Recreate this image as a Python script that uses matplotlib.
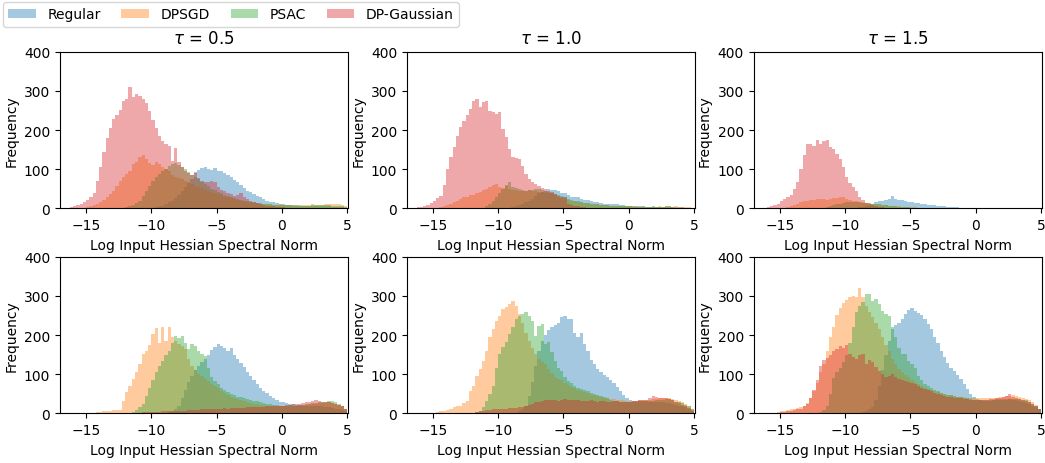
import numpy as np
import matplotlib.pyplot as plt

# bin edges for the log spectral norm histograms
edges = np.arange(-17, 5.001, 0.25)
centers = (edges[:-1] + edges[1:]) / 2

methods = ["Regular", "DPSGD", "PSAC", "DP-Gaussian"]
taus = [0.5, 1.0, 1.5]

# per-bin heights, each list starts at the given left bin edge
# top row
reg_a05 = (-10.0, [2,3,5,7,10,15,20,27,35,45, 55,65,75,90,98,102,105,100,98,102,
                   96,95,90,86,80,72,66,60,52,45, 41,36,32,28,24,20,17,15,13,11,
                   10,9,9,8,8,7,7,6,7,6, 6,5,5,5,5,4,4,3,3,2])
dpsgd_a05 = (-15.0, [3,5,8,11,15,22,28,36,45,58, 70,80,88,95,112,118,130,135,125,115,
                     110,118,112,105,100,95,85,80,78,74, 70,66,62,58,55,51,48,45,42,39,
                     36,33,30,28,26,24,22,20,18,16, 15,14,13,12,11,11,10,9,9,10,
                     9,8,8,9,8,7,8,9,8,10, 9,8,9,11,10,12,10,11,9,6])
psac_a05 = (-12.0, [3,5,8,13,20,32,45,58,70,80, 88,95,100,108,112,115,110,105,100,92,
                    85,80,75,68,62,56,50,46,42,38, 35,31,28,26,24,22,20,18,16,15,
                    14,13,12,11,10,9,9,8,8,8, 8,7,7,8,7,6,7,8,8,9, 8,8,8,7,7,6,5,3])
gauss_a05 = (-16.5, [2,3,5,8,11,16,22,30,38,70, 105,145,180,205,228,238,250,275,280,310,
                     285,292,288,280,270,248,225,205,185,172, 165,158,120,155,118,105,95,90,86,92,
                     78,70,68,66,70,68,55,48,44,40, 36,32,35,40,30,24,20,16,13,11,
                     9,7,6,5,4,3,3,2,2,1])

reg_a10 = (-9.0, [3,5,8,12,16,20,25,32,38,42, 45,49,48,46,45,40,38,34,30,29,
                  28,25,22,21,20,17,15,13,12,11, 10,11,10,9,8,7,6,6,5,5,
                  5,4,4,5,4,4,4,5,5,4, 3,3,3,2,2])
dpsgd_a10 = (-14.75, [2,3,5,8,11,15,20,25,28,30, 33,35,38,42,46,50,55,60,62,55,
                      52,58,50,48,46,45,44,45,46,45, 44,42,41,40,39,38,34,30,27,25,
                      22,20,18,16,15,14,13,12,11,10, 9,8,8,7,7,6,6,5,5,5,
                      5,5,4,5,4,4,4,4,5,4, 5,5,4,5,4,4,3,3,2])
psac_a10 = (-11.25, [2,5,10,20,30,40,50,60,66,55, 52,50,47,45,47,48,50,50,47,45,
                     42,40,37,35,31,28,25,22,20,18, 16,14,13,12,11,10,9,8,8,7,
                     7,6,6,5,5,5,4,4,4,4, 3,4,3,3,4,3,3,3,3,2, 2,2,1])
gauss_a10 = (-16.5, [2,3,4,6,9,14,20,26,32,60, 100,130,156,185,207,224,238,254,275,279,
                     258,271,275,249,245,241,245,203,181,151, 130,128,126,109,88,75,66,62,58,52,
                     49,44,41,36,32,30,28,12,8,6, 5,4,3,2,2,1])

reg_a15 = (-9.25, [2,3,4,6,9,12,15,18,20,22, 25,32,24,22,21,18,17,16,14,13,
                   11,10,9,8,8,7,6,5,4,4, 3,3,2,1])
dpsgd_a15 = (-14.75, [2,3,5,8,11,15,18,20,21,22, 24,25,23,22,24,26,27,28,28,25,
                      22,20,18,16,15,14,13,12,11,10, 9,8,7,6,6,5,4,4,3,3,
                      3,2,2,2,1,1])
psac_a15 = (-11.5, [3,5,8,10,12,14,15,16,16,15, 15,14,14,13,12,11,10,9,8,7,
                    6,5,4,4,3,3,2,2,1])
gauss_a15 = (-16.25, [2,3,5,8,11,18,24,28,35,50, 66,100,135,165,164,160,175,164,172,175,
                      156,151,140,126,105,79,65,55,45,30, 22,14,11,9,6,4,3,2,1])

# bottom row
reg_b05 = (-8.75, [3,6,12,20,40,60,80,95,110,120, 130,140,150,162,170,178,172,168,160,168,
                   150,140,128,118,105,95,85,76,66,58, 52,45,40,34,30,28,26,25,23,22,
                   21,20,20,20,19,19,18,18,17,15, 14,12,11,9,5])
dpsgd_b05 = (-14.75, [1,2,3,4,5,7,7,8,9,9, 32,55,70,88,105,125,151,160,175,203,
                      218,180,220,185,220,195,185,178,172,165, 140,120,110,100,95,88,82,76,70,64,
                      58,52,47,43,40,37,34,31,29,27, 25,23,22,21,20,19,18,18,18,18,
                      18,18,19,19,20,21,22,23,24,25, 26,26,27,28,27,25,22,18,12])
psac_b05 = (-11.5, [3,8,15,24,45,66,85,105,120,134, 148,160,180,198,192,198,180,164,177,173,
                    160,151,147,117,92,83,75,66,60,54, 50,46,43,41,39,37,34,32,31,29,
                    27,24,23,22,21,20,20,20,21,20, 20,21,22,24,25,26,27,28,30,29,
                    31,32,28,24,20,12])
gauss_b05 = (-11.5, [1,2,2,3,3,3,4,4,4,5, 5,5,6,6,6,7,7,8,8,9,
                     9,10,10,11,11,12,12,12,13,12, 13,13,14,13,14,15,15,16,16,17,
                     17,18,18,19,19,20,20,21,22,23, 24,25,26,28,30,31,33,31,30,29,
                     28,27,25,22,18,10])

reg_b10 = (-8.75, [2,5,10,20,45,80,120,160,185,200, 212,220,225,232,245,248,240,242,205,195,
                   205,178,160,135,125,112,105,98,92,85, 78,68,58,48,40,35,32,31,32,32,
                   31,30,30,29,28,28,27,26,24,22, 20,18,15,12,8])
dpsgd_b10 = (-15.0, [2,3,5,7,9,12,15,18,20,26, 32,58,71,95,113,134,160,194,215,237,
                     249,266,271,279,288,275,254,230,205,185, 168,152,140,132,125,112,102,94,88,85,
                     78,72,68,64,60,57,55,51,48,46, 44,42,40,38,37,36,35,34,33,32,
                     32,32,32,33,33,34,35,36,37,38, 38,39,38,37,35,32,28,24,18,10])
psac_b10 = (-11.75, [3,7,15,32,50,70,117,151,170,181, 203,220,241,249,254,258,249,237,198,224,
                     228,177,181,156,134,117,109,92,83,77, 71,66,62,60,58,53,49,47,45,41,
                     38,35,32,31,30,29,28,28,29,30, 32,32,31,32,32,33,34,35,37,36,
                     34,30,28,26,22,20,11])
gauss_b10 = (-12.0, [2,3,5,6,8,9,10,11,12,12, 12,13,14,14,15,16,18,22,25,28,
                     30,31,33,34,35,33,32,35,36,34, 33,35,34,32,31,32,33,31,30,31,
                     31,30,30,31,31,30,29,30,30,31, 32,33,33,35,38,45,42,40,38,40,
                     36,33,30,26,22,18,14,7])

reg_b15 = (-8.75, [3,5,10,15,35,70,110,150,185,215, 225,230,240,255,265,270,262,256,250,240,
                   228,215,196,180,160,145,128,115,108,98, 88,75,62,50,42,36,35,34,34,35,
                   35,36,36,37,37,36,35,33,32,30, 27,24,20,16,10])
dpsgd_b15 = (-15.75, [1,2,3,5,7,8,10,11,13,16, 20,26,40,58,78,105,125,160,195,220,
                      250,270,283,290,296,300,296,321,296,275, 260,245,230,215,195,175,160,140,125,112,
                      105,98,92,86,80,75,70,66,63,60, 57,55,52,50,48,46,45,43,42,41,
                      40,39,38,38,38,38,39,39,40,40, 41,42,44,45,46,45,43,40,37,33,
                      28,22,12])
psac_b15 = (-12.0, [3,8,20,50,90,105,115,130,150,180, 220,260,275,285,305,306,288,292,279,262,
                    254,249,220,194,168,151,151,134,125,117, 95,85,75,70,64,60,56,52,50,48,
                    46,44,42,41,40,38,36,34,33,33, 32,32,32,33,33,34,34,35,36,37,
                    37,36,35,33,30,25,20,12])
gauss_b15 = (-15.5, [2,2,3,4,5,6,8,10,12,18, 25,40,60,85,120,135,142,150,158,165,
                     172,168,175,152,145,140,148,152,125,135, 130,118,108,100,92,95,100,92,88,85,
                     83,80,78,75,70,66,62,60,57,52, 50,47,45,43,41,40,39,38,37,36,
                     35,34,33,33,34,35,36,37,38,40, 41,44,50,42,38,37,34,31,28,24,
                     18,12])

panels = [
    [reg_a05, dpsgd_a05, psac_a05, gauss_a05],
    [reg_a10, dpsgd_a10, psac_a10, gauss_a10],
    [reg_a15, dpsgd_a15, psac_a15, gauss_a15],
    [reg_b05, dpsgd_b05, psac_b05, gauss_b05],
    [reg_b10, dpsgd_b10, psac_b10, gauss_b10],
    [reg_b15, dpsgd_b15, psac_b15, gauss_b15],
]


def to_bins(series):
    start, vals = series
    counts = np.zeros(len(centers))
    i0 = int(round((start - edges[0]) / 0.25))
    counts[i0:i0 + len(vals)] = vals
    return counts


fig, axes = plt.subplots(2, 3, figsize=(10.45, 4.64), dpi=100)
plt.subplots_adjust(left=0.0574, right=0.997, top=0.8864, bottom=0.107,
                    wspace=0.204, hspace=0.309)

for k, ax in enumerate(axes.flat):
    for j, series in enumerate(panels[k]):
        ax.hist(centers, bins=edges, weights=to_bins(series), alpha=0.4,
                color=f"C{j}", label=methods[j])
    ax.set_xlim(-17, 5.08)
    ax.set_ylim(0, 400)
    ax.set_yticks([0, 100, 200, 300, 400])
    ax.set_xticks([-15, -10, -5, 0, 5])
    ax.set_xlabel("Log Input Hessian Spectral Norm")
    ax.set_ylabel("Frequency")
    if k < 3:
        ax.set_title(rf"$\tau$ = {taus[k]}")

handles, labels = axes[0, 0].get_legend_handles_labels()
fig.legend(handles, labels, loc="upper left", ncol=4, bbox_to_anchor=(0.0, 1.0),
           borderaxespad=0.2, columnspacing=1.5)

plt.savefig("out.png")
